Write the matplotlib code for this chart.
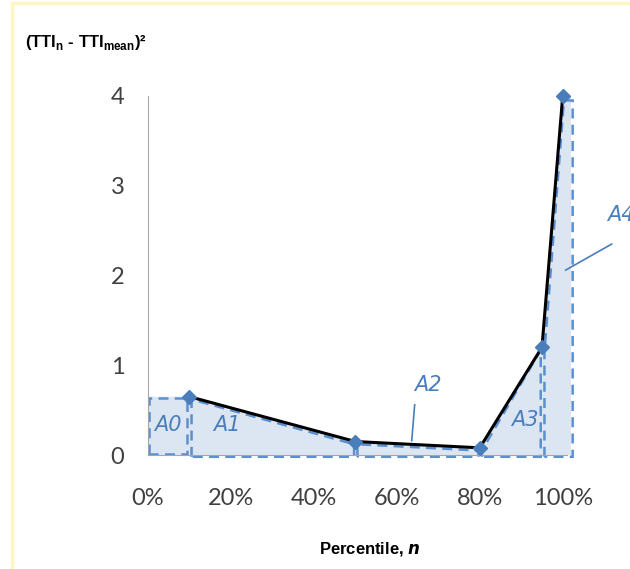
import matplotlib.pyplot as plt
from matplotlib.lines import Line2D
from matplotlib.patches import Polygon

# data
pct = [0.10, 0.50, 0.80, 0.95, 1.00]
dev2 = [0.65, 0.15, 0.08, 1.20, 4.00]
x_ticks = [0.0, 0.2, 0.4, 0.6, 0.8, 1.0]
x_tick_labels = ["0%", "20%", "40%", "60%", "80%", "100%"]
y_ticks = [0, 1, 2, 3, 4]
area_labels = ["A0", "A1", "A2", "A3", "A4"]

BLUE = "#4a7ebb"
FILL = "#dce6f2"
DASH = "#5b8fd0"
GRAY = "#404040"

fig = plt.figure(figsize=(6.3, 5.69), dpi=100)
ax = fig.add_axes([148 / 630, 114 / 569, 423 / 630, 359 / 569])
ax.set_xlim(0, 1.02)
ax.set_ylim(0, 4)

# shaded area under the curve (plus A0 block and A4 strip)
x_right = 1.024
fill_pts = [(0, 0), (0, dev2[0])] + list(zip(pct, dev2)) + [(x_right, dev2[-1]), (x_right, 0)]
ax.add_patch(Polygon(fill_pts, closed=True, facecolor=FILL, edgecolor="none", zorder=1))

# dashed outlines of each area
dash_kw = dict(closed=True, fill=False, edgecolor=DASH, lw=1.8,
               linestyle=(0, (4, 2.5)), zorder=2, clip_on=False)
ax.add_patch(Polygon([(0.003, 0.01), (0.003, dev2[0] - 0.02),
                      (pct[0] - 0.005, dev2[0] - 0.02), (pct[0] - 0.005, 0.01)], **dash_kw))
for i in range(3):
    x0, x1 = pct[i], pct[i + 1]
    y0, y1 = dev2[i], dev2[i + 1]
    ax.add_patch(Polygon([(x0 + 0.005, -0.02), (x0 + 0.005, y0 - 0.03),
                          (x1 - 0.003, y1 - 0.03), (x1 - 0.003, -0.02)], **dash_kw))
ax.add_patch(Polygon([(pct[3] + 0.006, -0.02), (pct[3] + 0.006, dev2[3] - 0.05),
                      (pct[4] + 0.003, dev2[4] - 0.05), (x_right, dev2[4] - 0.05),
                      (x_right, -0.02)], **dash_kw))

# curve and markers
ax.plot(pct, dev2, color="black", lw=2.2, zorder=3)
ax.plot(pct, dev2, linestyle="none", marker="D", ms=7, color=BLUE,
        zorder=4, clip_on=False)

# area labels
lab_kw = dict(color=BLUE, fontsize=15, style="italic", ha="center", va="center")
ax.text(0.048, 0.33, area_labels[0], **lab_kw)
ax.text(0.19, 0.33, area_labels[1], **lab_kw)
ax.text(0.675, 0.78, area_labels[2], **lab_kw)
ax.text(0.908, 0.39, area_labels[3], **lab_kw)
ax.text(1.14, 2.67, area_labels[4], clip_on=False, **lab_kw)
ax.add_line(Line2D([0.643, 0.636], [0.56, 0.16], color=BLUE, lw=1.2, zorder=5))
ax.add_line(Line2D([1.118, 1.007], [2.35, 2.06], color=BLUE, lw=1.2,
                   zorder=5, clip_on=False))

# axes styling
for s in ["top", "right"]:
    ax.spines[s].set_visible(False)
ax.spines["left"].set_color("#a6a6a6")
ax.spines["bottom"].set_color("#a6a6a6")
ax.spines["bottom"].set_bounds(0, 1.01)
ax.set_xticks(x_ticks)
ax.set_xticklabels(x_tick_labels)
ax.set_yticks(y_ticks)
ax.tick_params(length=0, labelsize=17, labelcolor=GRAY)
ax.tick_params(axis="y", pad=17)
ax.tick_params(axis="x", pad=24)
for lab in ax.get_xticklabels() + ax.get_yticklabels():
    lab.set_family("Lato")

fig.text(25 / 630, 1 - 42 / 569,
         r"(TTI$_\mathregular{n}$ - TTI$_\mathregular{mean}$)²",
         fontsize=12, fontweight="bold", color="black", ha="left", va="center",
         family="Liberation Sans")
fig.text(370 / 630, 1 - 549 / 569, r"Percentile, $\boldsymbol{n}$",
         fontsize=12, fontweight="bold", ha="center", va="center",
         family="Liberation Sans")

# pale yellow frame along the top and left
fig.add_artist(Line2D([12 / 630, 1], [1 - 3 / 569] * 2, color="#fff7c2",
                      lw=2.5, transform=fig.transFigure))
fig.add_artist(Line2D([12 / 630] * 2, [0, 1 - 3 / 569], color="#fff7c2",
                      lw=2.5, transform=fig.transFigure))

fig.savefig("out.png", dpi=100)
